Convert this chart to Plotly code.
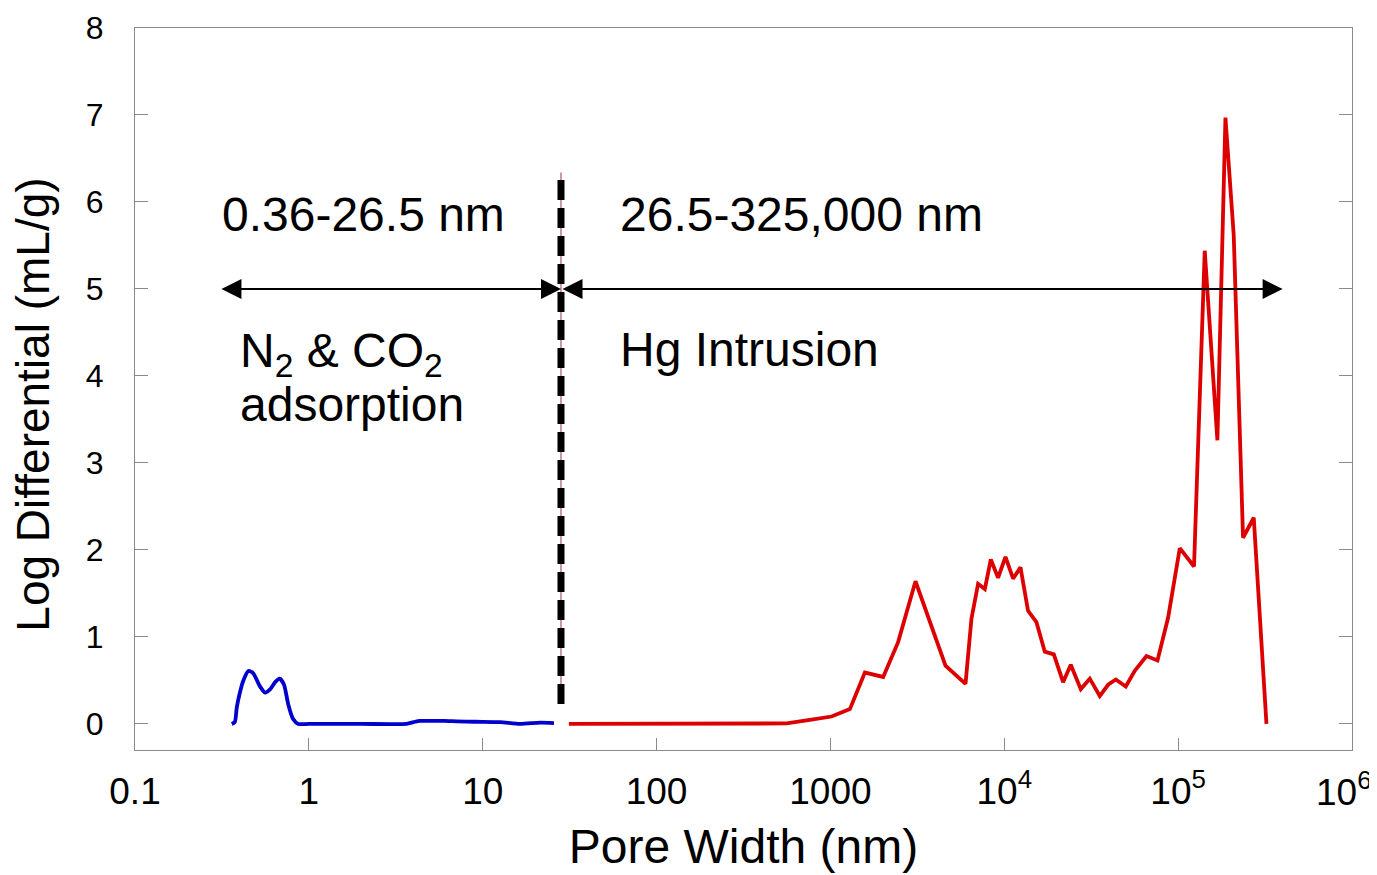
import plotly.graph_objects as go
import math

# ---- data ----
n2co2_width = [0.36, 0.375, 0.385, 0.40, 0.42, 0.45, 0.48, 0.52, 0.56, 0.60, 0.64, 0.68,
               0.72, 0.76, 0.81, 0.87, 1.0, 2.0, 3.65, 4.0, 4.35, 5.0, 6.0, 7.1, 9.0,
               12.6, 16.4, 21.4, 25.7]
n2co2_dv = [0.0, 0.02, 0.19, 0.35, 0.50, 0.61, 0.58, 0.44, 0.36, 0.40, 0.48, 0.52,
            0.45, 0.23, 0.06, 0.0, 0.0, 0.0, 0.0, 0.02, 0.035, 0.035, 0.035, 0.03, 0.025,
            0.02, 0.0, 0.015, 0.01]

hg_width = [31.3, 60, 120, 250, 479, 560, 762, 1015, 1294, 1578, 2011, 2451, 3085, 4590,
            5984, 6474, 7067, 7727, 8363, 9210, 10160, 11240, 12390, 13700, 15310, 17100,
            19270, 21790, 24120, 27540, 31030, 35420, 39560, 43780, 49990, 56280, 65760,
            76060, 87530, 102200, 123400, 142200, 168200, 187100, 208800, 236200, 272200,
            322100]
hg_dv = [0.0, 0.0, 0.0, 0.0, 0.0, 0.005, 0.045, 0.085, 0.17, 0.59, 0.54, 0.94, 1.64, 0.67,
         0.46, 1.21, 1.61, 1.55, 1.89, 1.68, 1.92, 1.67, 1.80, 1.30, 1.17, 0.83,
         0.80, 0.48, 0.68, 0.40, 0.52, 0.32, 0.45, 0.51, 0.43, 0.61, 0.78,
         0.73, 1.22, 2.02, 1.81, 5.44, 3.26, 6.97, 5.62, 2.14, 2.37,
         0.0]

boundary_width = 28.2
boundary_y = [0.23, 6.34]
arrow_left_start = 0.308
arrow_right_end = 399000
arrow_level = 5

x_tickvals = [0.1, 1, 10, 100, 1000, 1e4, 1e5, 1e6]
x_ticktext = ["0.1", "1", "10", "100", "1000", "10<sup>4</sup>", "10<sup>5</sup>", "10<sup>6</sup>"]
y_tickvals = [0, 1, 2, 3, 4, 5, 6, 7, 8]

FONT = "Arial, Liberation Sans, sans-serif"

fig = go.Figure()

# boundary dashed line (thin pink underlay + black dashes)
fig.add_trace(go.Scatter(x=[boundary_width, boundary_width], y=boundary_y, mode="lines",
                         line=dict(color="#b77a8a", width=1.5), showlegend=False, hoverinfo="skip"))
fig.add_trace(go.Scatter(x=[boundary_width, boundary_width], y=boundary_y, mode="lines",
                         line=dict(color="black", width=7, dash="20px,8px"),
                         showlegend=False, hoverinfo="skip"))

fig.add_trace(go.Scatter(x=n2co2_width, y=n2co2_dv, mode="lines",
                         line=dict(color="#0000cc", width=3.8, shape="spline", smoothing=0.6),
                         showlegend=False))
fig.add_trace(go.Scatter(x=hg_width, y=hg_dv, mode="lines",
                         line=dict(color="#dd0000", width=3.8),
                         showlegend=False))

lg = math.log10
# double-headed arrows
for a, b in [(arrow_left_start, boundary_width), (boundary_width, arrow_right_end)]:
    fig.add_annotation(x=lg(b), y=arrow_level, ax=lg(a), ay=arrow_level,
                       xref="x", yref="y", axref="x", ayref="y",
                       text="", showarrow=True, arrowhead=2, startarrowhead=2,
                       arrowside="end+start", arrowwidth=2, arrowsize=2.0,
                       startarrowsize=2.0, arrowcolor="black", standoff=0, startstandoff=0)

txt_font = dict(family=FONT, size=48, color="black")
fig.add_annotation(x=lg(0.308), y=5.86, text="0.36-26.5 nm", showarrow=False,
                   xanchor="left", yanchor="middle", font=txt_font)
fig.add_annotation(x=lg(59.8), y=5.86, text="26.5-325,000 nm", showarrow=False,
                   xanchor="left", yanchor="middle", font=txt_font)
fig.add_annotation(x=lg(0.391), y=4.25, text="N<sub>2</sub> & CO<sub>2</sub>", showarrow=False,
                   xanchor="left", yanchor="middle", font=txt_font)
fig.add_annotation(x=lg(0.391), y=3.67, text="adsorption", showarrow=False,
                   xanchor="left", yanchor="middle", font=txt_font)
fig.add_annotation(x=lg(59.8), y=4.30, text="Hg Intrusion", showarrow=False,
                   xanchor="left", yanchor="middle", font=txt_font)

# last x tick label drawn slightly inward so it stays inside the page (as in the reference)
tick_font = dict(family=FONT, size=37, color="black")
fig.add_annotation(x=lg(x_tickvals[-1]), y=0, xref="x", yref="paper", text=x_ticktext[-1],
                   showarrow=False, xanchor="right", yanchor="top", xshift=22, yshift=-14,
                   font=tick_font)
x_ticktext_axis = x_ticktext[:-1] + [""]

# y-axis title as a rotated annotation (placed like the reference)
fig.add_annotation(x=-0.084, y=0.478, xref="paper", yref="paper", text="Log Differential (mL/g)",
                   textangle=-90, showarrow=False, xanchor="center", yanchor="middle",
                   font=dict(family=FONT, size=46, color="black"))

axis_color = "#8a8a8a"
fig.update_xaxes(type="log", range=[-1, 6], tickvals=x_tickvals, ticktext=x_ticktext_axis,
                 ticks="inside", ticklen=12, tickcolor=axis_color, tickwidth=1,
                 showline=True, linecolor=axis_color, linewidth=1.2, mirror=True,
                 showgrid=False, zeroline=False,
                 tickfont=tick_font, ticklabelstandoff=8,
                 title=dict(text="Pore Width (nm)", font=dict(family=FONT, size=48, color="black"),
                            standoff=18))
fig.update_yaxes(range=[-0.3, 8], tickvals=y_tickvals,
                 ticks="inside", ticklen=13, tickcolor=axis_color, tickwidth=1,
                 showline=True, linecolor=axis_color, linewidth=1.2, mirror="ticks",
                 showgrid=False, zeroline=False,
                 tickfont=dict(family=FONT, size=32, color="black"), ticklabelstandoff=24)

# page body has an 8px margin, so the margins compensate to land the plot area correctly
fig.update_layout(width=1377, height=875, plot_bgcolor="white", paper_bgcolor="white",
                  margin=dict(l=127, r=33, t=20, b=133, autoexpand=False),
                  font=dict(family=FONT))

fig.write_html("out.html")
